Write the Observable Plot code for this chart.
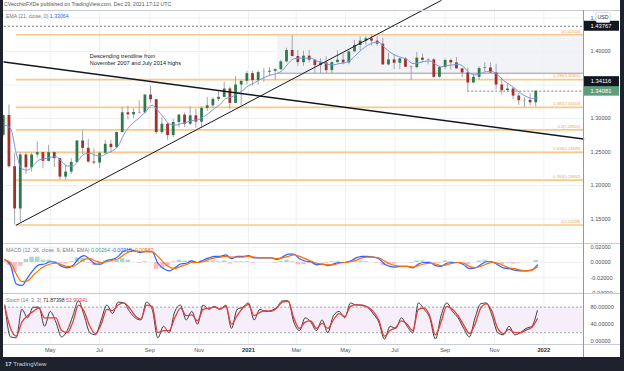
<!DOCTYPE html>
<html><head><meta charset="utf-8">
<script src="https://cdn.jsdelivr.net/npm/d3@7"></script>
<script src="https://cdn.jsdelivr.net/npm/@observablehq/plot@0.6"></script>
<style>
body{margin:0;background:#1e222d;}
#root{position:relative;width:624px;height:371px;background:#1e222d;overflow:hidden;font-family:"Liberation Sans",Arial,sans-serif;}
#inner{position:absolute;left:3px;top:0;width:617px;height:357px;background:#fff;overflow:hidden;}
.abs{position:absolute;white-space:nowrap;line-height:1;}
.sep{position:absolute;background:#c9ccd4;}
#inner svg{position:absolute;left:0;}
</style></head><body>
<div id="root"><div id="inner"></div>
<div class="abs" style="left:5px;top:361px;font-size:6px;color:#d1d4dc;font-weight:bold">17 <span style="font-weight:normal">TradingView</span></div>
</div>
<script>
// ---------- data (GBP/USD daily chart, read as weekly samples) ----------
const weekEnd = [
"2020-03-06","2020-03-13","2020-03-20","2020-03-27",
"2020-04-03","2020-04-10","2020-04-17","2020-04-24",
"2020-05-01","2020-05-08","2020-05-15","2020-05-22","2020-05-29",
"2020-06-05","2020-06-12","2020-06-19","2020-06-26",
"2020-07-03","2020-07-10","2020-07-17","2020-07-24","2020-07-31",
"2020-08-07","2020-08-14","2020-08-21","2020-08-28",
"2020-09-04","2020-09-11","2020-09-18","2020-09-25",
"2020-10-02","2020-10-09","2020-10-16","2020-10-23","2020-10-30",
"2020-11-06","2020-11-13","2020-11-20","2020-11-27",
"2020-12-04","2020-12-11","2020-12-18","2020-12-25",
"2021-01-01","2021-01-08","2021-01-15","2021-01-22","2021-01-29",
"2021-02-05","2021-02-12","2021-02-19","2021-02-26",
"2021-03-05","2021-03-12","2021-03-19","2021-03-26",
"2021-04-02","2021-04-09","2021-04-16","2021-04-23","2021-04-30",
"2021-05-07","2021-05-14","2021-05-21","2021-05-28",
"2021-06-04","2021-06-11","2021-06-18","2021-06-25",
"2021-07-02","2021-07-09","2021-07-16","2021-07-23","2021-07-30",
"2021-08-06","2021-08-13","2021-08-20","2021-08-27",
"2021-09-03","2021-09-10","2021-09-17","2021-09-24",
"2021-10-01","2021-10-08","2021-10-15","2021-10-22","2021-10-29",
"2021-11-05","2021-11-12","2021-11-19","2021-11-26",
"2021-12-03","2021-12-10","2021-12-17","2021-12-24"];
const opens = [
1.2750,1.3045,1.2280,1.1650, 1.2455,1.2265,1.2455,1.2490, 1.2360,1.2490,1.2400,1.2125,1.2200,
1.2345,1.2665,1.2555,1.2350, 1.2335,1.2480,1.2615,1.2565,1.2790, 1.3085,1.3055,1.3090,1.3085,
1.3350,1.3280,1.2790,1.2915, 1.2745,1.2940,1.3050,1.2915,1.3040, 1.2945,1.3150,1.3190,1.3285,
1.3315,1.3440,1.3225,1.3500, 1.3555,1.3670,1.3565,1.3685,1.3690, 1.3705,1.3730,1.3845,1.4015,
1.3925,1.3835,1.3930,1.3870, 1.3790,1.3830,1.3715,1.3835,1.3870, 1.3830,1.3995,1.4090,1.4155,
1.4190,1.4155,1.4110,1.3800, 1.3875,1.3825,1.3890,1.3765,1.3760, 1.3900,1.3870,1.3875,1.3615,
1.3760,1.3865,1.3830,1.3740, 1.3680,1.3530,1.3615,1.3745,1.3755, 1.3680,1.3500,1.3415,1.3440,
1.3335,1.3265,1.3270,1.3235];
const highs = [
1.3050,1.3200,1.2480,1.2485, 1.2485,1.2485,1.2650,1.2490, 1.2600,1.2500,1.2400,1.2300,1.2400,
1.2665,1.2813,1.2690,1.2545, 1.2500,1.2670,1.2670,1.2800,1.3170, 1.3185,1.3145,1.3265,1.3355,
1.3482,1.3285,1.3010,1.2925, 1.2985,1.3060,1.3080,1.3175,1.3140, 1.3175,1.3315,1.3310,1.3400,
1.3540,1.3470,1.3625,1.3565, 1.3705,1.3705,1.3710,1.3745,1.3760, 1.3740,1.3865,1.4050,1.4241,
1.4015,1.4005,1.4015,1.3875, 1.3890,1.3920,1.3845,1.4010,1.3970, 1.4005,1.4165,1.4220,1.4220,
1.4250,1.4220,1.4200,1.3975, 1.3955,1.3895,1.3910,1.3785,1.3985, 1.3960,1.3890,1.3890,1.3780,
1.3890,1.3890,1.3910,1.3750, 1.3750,1.3670,1.3770,1.3835,1.3830, 1.3810,1.3605,1.3515,1.3460,
1.3375,1.3310,1.3370,1.3415];
const lows = [
1.2725,1.2260,1.1409,1.1450, 1.2165,1.2200,1.2410,1.2250, 1.2350,1.2270,1.2080,1.2075,1.2165,
1.2330,1.2460,1.2335,1.2310, 1.2255,1.2460,1.2480,1.2550,1.2785, 1.2980,1.3000,1.3070,1.3065,
1.3225,1.2762,1.2765,1.2676, 1.2710,1.2860,1.2865,1.2895,1.2855, 1.2855,1.3105,1.3150,1.3250,
1.3310,1.3135,1.3225,1.3190, 1.3505,1.3485,1.3500,1.3540,1.3625, 1.3565,1.3720,1.3830,1.3915,
1.3775,1.3780,1.3830,1.3670, 1.3670,1.3670,1.3670,1.3825,1.3800, 1.3800,1.3990,1.4010,1.4095,
1.4085,1.4080,1.3795,1.3785, 1.3730,1.3730,1.3760,1.3570,1.3740, 1.3830,1.3800,1.3600,1.3605,
1.3725,1.3725,1.3735,1.3610, 1.3412,1.3520,1.3570,1.3695,1.3670, 1.3425,1.3350,1.3400,1.3280,
1.3195,1.3160,1.3190,1.3170];
const closes = [
1.3045,1.2280,1.1650,1.2455, 1.2265,1.2455,1.2490,1.2360, 1.2490,1.2400,1.2125,1.2200,1.2345,
1.2665,1.2555,1.2350,1.2335, 1.2480,1.2615,1.2565,1.2790,1.3085, 1.3055,1.3090,1.3085,1.3350,
1.3280,1.2790,1.2915,1.2745, 1.2940,1.3050,1.2915,1.3040,1.2945, 1.3150,1.3190,1.3285,1.3315,
1.3440,1.3225,1.3500,1.3555, 1.3670,1.3565,1.3685,1.3690,1.3705, 1.3730,1.3845,1.4015,1.3925,
1.3835,1.3930,1.3870,1.3790, 1.3830,1.3715,1.3835,1.3870,1.3830, 1.3995,1.4090,1.4155,1.4190,
1.4155,1.4110,1.3800,1.3875, 1.3825,1.3890,1.3765,1.3760,1.3900, 1.3870,1.3875,1.3615,1.3760,
1.3865,1.3830,1.3740,1.3680, 1.3530,1.3615,1.3745,1.3755,1.3680, 1.3500,1.3415,1.3440,1.3335,
1.3265,1.3270,1.3235,1.3408];
const ema21 = [
1.2900,1.2850,1.2480,1.2250, 1.2230,1.2300,1.2380,1.2400, 1.2420,1.2430,1.2360,1.2290,1.2290,
1.2380,1.2470,1.2480,1.2450, 1.2440,1.2480,1.2520,1.2590,1.2760, 1.2880,1.2960,1.3030,1.3120,
1.3200,1.3120,1.3020,1.2920, 1.2900,1.2920,1.2940,1.2970,1.2980, 1.3020,1.3080,1.3150,1.3210,
1.3300,1.3320,1.3370,1.3420, 1.3490,1.3530,1.3580,1.3620,1.3650, 1.3670,1.3720,1.3820,1.3890,
1.3900,1.3900,1.3900,1.3860, 1.3840,1.3810,1.3800,1.3820,1.3830, 1.3870,1.3950,1.4030,1.4090,
1.4130,1.4140,1.4060,1.3990, 1.3940,1.3910,1.3880,1.3820,1.3830, 1.3850,1.3860,1.3810,1.3770,
1.3790,1.3800,1.3810,1.3770, 1.3680,1.3650,1.3670,1.3700,1.3700, 1.3650,1.3570,1.3510,1.3450,
1.3380,1.3330,1.3300,1.33064];
const macdLine = [
0.004,-0.004,-0.028,-0.030, -0.020,-0.010,-0.003,-0.002, 0.001,0.000,-0.005,-0.007,-0.004,
0.005,0.009,0.004,-0.002, -0.002,0.003,0.004,0.008,0.015, 0.017,0.015,0.013,0.015,
0.014,-0.001,-0.008,-0.011, -0.007,-0.002,-0.001,0.002,0.000, 0.003,0.006,0.008,0.008,
0.010,0.005,0.008,0.008, 0.009,0.006,0.006,0.006,0.006, 0.004,0.007,0.011,0.011,
0.005,0.002,0.001,-0.003, -0.002,-0.004,-0.002,0.000,0.000, 0.002,0.006,0.008,0.008,
0.007,0.005,-0.002,-0.005, -0.006,-0.005,-0.005,-0.007,-0.002, 0.000,0.000,-0.004,-0.005,
-0.001,0.000,0.000,-0.003, -0.008,-0.007,-0.003,0.001,0.001, -0.003,-0.007,-0.008,-0.010,
-0.011,-0.011,-0.010,-0.00318];
const signalLine = [
0.003,0.000,-0.015,-0.025, -0.024,-0.017,-0.010,-0.005, -0.002,-0.001,-0.003,-0.005,-0.005,
-0.001,0.004,0.005,0.002, 0.000,0.001,0.003,0.005,0.010, 0.014,0.015,0.014,0.014,
0.014,0.008,0.000,-0.006, -0.008,-0.005,-0.003,0.000,0.000, 0.001,0.004,0.006,0.007,
0.008,0.007,0.007,0.007, 0.008,0.007,0.006,0.006,0.006, 0.005,0.006,0.008,0.010,
0.008,0.005,0.002,-0.001, -0.002,-0.003,-0.003,-0.001,0.000, 0.001,0.003,0.006,0.007,
0.007,0.006,0.002,-0.002, -0.004,-0.005,-0.005,-0.006,-0.004, -0.002,-0.001,-0.002,-0.004,
-0.003,-0.001,0.000,-0.001, -0.005,-0.007,-0.005,-0.002,0.000, -0.001,-0.004,-0.007,-0.008,
-0.010,-0.011,-0.010,-0.00582];
const histogram = [
0.001,-0.004,-0.013,-0.005, 0.004,0.007,0.007,0.003, 0.003,0.001,-0.002,-0.002,0.001,
0.006,0.005,-0.001,-0.004, -0.002,0.002,0.001,0.003,0.005, 0.003,0.000,-0.001,0.001,
0.000,-0.009,-0.008,-0.005, 0.001,0.003,0.002,0.002,0.000, 0.002,0.002,0.002,0.001,
0.002,-0.002,0.001,0.001, 0.001,-0.001,0.000,0.000,0.000, -0.001,0.001,0.003,0.001,
-0.003,-0.003,-0.001,-0.002, 0.000,-0.001,0.001,0.001,0.000, 0.001,0.003,0.002,0.001,
0.000,-0.001,-0.004,-0.003, -0.002,0.000,0.000,-0.001,0.002, 0.002,0.001,-0.002,-0.001,
0.002,0.001,0.000,-0.002, -0.003,0.000,0.002,0.003,0.001, -0.002,-0.003,-0.001,-0.002,
-0.001,0.000,0.000,0.00264];
const stochK = [
85,10,8,75, 55,80,80,35, 70,45,10,25,60, 95,60,20,15, 50,85,65,92,90, 70,55,50,92,
75,8,35,20, 70,85,50,70,40, 85,75,82,75, 85,30,75,80, 90,50,75,70,72, 80,95,95,45,
25,55,45,25, 50,20,60,70,55, 90,85,85,80, 65,45,5,35, 30,55,35,20,90, 75,55,5,60,
90,70,55,30, 10,55,88,90,60, 20,15,35,15, 20,30,35,71.87];
const stochD = [
80,30,12,45, 60,70,78,55, 55,55,25,20,45, 85,70,35,18, 40,75,72,85,90, 78,60,52,85,
82,20,25,25, 55,78,60,62,48, 75,78,80,76, 82,40,60,78, 86,60,68,72,70, 78,92,94,55,
30,45,48,30, 42,30,50,65,58, 82,86,84,80, 70,50,12,25, 32,48,40,25,75, 78,60,15,45,
82,75,60,38, 18,40,78,88,70, 30,18,28,20, 20,26,32,52.9];

// fib retracement (Mar 2020 low -> Jun 2021 high)
const fibRatios = ["0","0.236","0.382","0.5","0.618","0.764","1"];
const fibPrices = [1.42504,1.35800,1.31653,1.28301,1.24949,1.20802,1.14098];
const fibStart = "2020-03-20";
// drawings
const descTrendDates = ["2020-03-05","2022-02-19"], descTrendPrices = [1.3843,1.2694];
const ascTrendDates = ["2020-03-20","2021-08-27"], ascTrendPrices = [1.1409,1.4761];
const noteText = "Descending trendline from\nNovember 2007 and July 2014 highs";
const noteDate = "2020-06-19", notePrice = 1.3975;
const rangeStart = "2021-02-06", rangeTop = 1.42504, rangeBottom = 1.3676;
const dashedLevel = 1.43767;
const dottedStart = "2021-09-29", dottedLevel = 1.34081;
const boxPrices = [1.43767, 1.34081, 1.34116];
const boxColors = ["#131722", "#5e9e7c", "#131722"];
// axes
const priceTicks = [1.15,1.20,1.25,1.30,1.40,1.45];
const priceTickText = ["1.15000","1.20000","1.25000","1.30000","1.40000","1.4"]; // top label is cut by the USD badge
const priceGrid = [1.15,1.20,1.25,1.30,1.35,1.40,1.45];
const macdTicks = [0.02,0,-0.02,-0.04];
const stochTicks = [0,40,80];
const timeTicks = ["2020-05-01","2020-07-01","2020-09-01","2020-11-01","2021-01-01","2021-03-01","2021-05-01","2021-07-01","2021-09-01","2021-11-01","2022-01-01"];
const timeLabels = ["May","Jul","Sep","Nov","2021","Mar","May","Jul","Sep","Nov","2022"];

// ---------- build ----------
const D = s => new Date(s + "T00:00:00Z");
const xDomain = [new Date("2020-03-05T12:00:00Z"), D("2022-02-19")];
const DAY = 864e5;
const bars = weekEnd.map((w, i) => ({
  end: D(w), mid: new Date(D(w).getTime() - 2 * DAY),
  open: opens[i], high: highs[i], low: lows[i], close: closes[i], ema: ema21[i],
  macd: macdLine[i], signal: signalLine[i], hist: histogram[i], k: stochK[i], d: stochD[i]
}));
const up = bars.filter(b => b.close >= b.open), down = bars.filter(b => b.close < b.open);
const fib = fibRatios.map((r, i) => ({label: `${r}(${fibPrices[i].toFixed(5)})`, price: fibPrices[i]}));
const desc = descTrendDates.map((d, i) => ({date: D(d), price: descTrendPrices[i]}));
const asc = ascTrendDates.map((d, i) => ({date: D(d), price: ascTrendPrices[i]}));
const ticks = timeTicks.map(D);
const labelMap = new Map(ticks.map((t, i) => [+t, timeLabels[i]]));
const priceLabelMap = new Map(priceTicks.map((t, i) => [t, priceTickText[i]]));
const monthTicks = ticks.filter(t => t.getUTCMonth() !== 0);
const yearTicks = ticks.filter(t => t.getUTCMonth() === 0);

const FONT = "'Liberation Sans',Arial,sans-serif";
const common = {width: 617, marginLeft: 1, marginRight: 37,
  x: {type: "utc", domain: xDomain},
  style: {fontFamily: FONT, color: "#50535e", background: "#fff", overflow: "visible"}};
const GRID = "#eef0f5";
const fmt5 = d => d.toFixed(5);

const price = Plot.plot({...common, height: 243, marginTop: 10, marginBottom: 0,
  x: {...common.x, axis: null},
  y: {domain: [1.11343, 1.46119]},
  marks: [
    Plot.ruleX(ticks, {stroke: GRID}),
    Plot.ruleY(priceGrid, {stroke: GRID}),
    Plot.rect([0], {x1: D(rangeStart), x2: xDomain[1], y1: rangeBottom, y2: rangeTop, fill: "#eef0f4", fillOpacity: 0.8}),
    Plot.ruleY([rangeBottom], {x1: D(rangeStart), x2: xDomain[1], stroke: "#9598a1", strokeWidth: 1}),
    Plot.ruleY(fib, {y: "price", x1: D(fibStart), x2: xDomain[1], stroke: "#f8c98a", strokeWidth: 1.6}),
    Plot.ruleY([dashedLevel], {stroke: "#787b86", strokeDasharray: "2,2"}),
    Plot.ruleY([dottedLevel], {x1: D(dottedStart), x2: xDomain[1], stroke: "#787b86", strokeDasharray: "2,2"}),
    Plot.ruleX(bars, {x: "mid", y1: "low", y2: "high", stroke: "#a3a6ae", strokeWidth: 1}),
    Plot.ruleX(up, {x: "mid", y1: "open", y2: "close", stroke: "#2f7a4c", strokeWidth: 2.8}),
    Plot.ruleX(down, {x: "mid", y1: "open", y2: "close", stroke: "#a2302c", strokeWidth: 2.8}),
    Plot.line(bars, {x: "end", y: "ema", stroke: "#7895e2", strokeWidth: 1, curve: "monotone-x"}),
    Plot.line(desc, {x: "date", y: "price", stroke: "#131722", strokeWidth: 1.6}),
    Plot.line(asc, {x: "date", y: "price", stroke: "#131722", strokeWidth: 1}),
    Plot.text(fib, {x: xDomain[1], y: "price", text: "label", textAnchor: "end", dx: -3, dy: -3.5, fill: "#f2a43a", fontSize: 4}),
    Plot.text([0], {x: D(noteDate), y: notePrice, text: [noteText], textAnchor: "start", lineAnchor: "top", fontSize: 5.6, fill: "#131722", lineHeight: 1.2}),
    Plot.axisY({anchor: "right", ticks: priceTicks, tickSize: 0, tickPadding: 7, tickFormat: d => priceLabelMap.get(d), fontSize: 5.6, label: null})
  ]});

const macd = Plot.plot({...common, height: 50, marginTop: 0, marginBottom: 0,
  x: {...common.x, axis: null},
  y: {domain: [-0.04052, 0.02484]},
  marks: [
    Plot.ruleX(ticks, {stroke: GRID}),
    Plot.ruleY(macdTicks, {stroke: GRID}),
    Plot.ruleX(bars.filter(b => b.hist >= 0), {x: "mid", y1: 0, y2: "hist", stroke: "#a9d8cc", strokeWidth: 4.5}),
    Plot.ruleX(bars.filter(b => b.hist < 0), {x: "mid", y1: 0, y2: "hist", stroke: "#f9bcc2", strokeWidth: 4.5}),
    Plot.line(bars, {x: "end", y: "macd", stroke: "#2962ff", strokeWidth: 1.2, curve: "monotone-x"}),
    Plot.line(bars, {x: "end", y: "signal", stroke: "#ff6d00", strokeWidth: 1.2, curve: "monotone-x"}),
    Plot.axisY({anchor: "right", ticks: macdTicks, tickSize: 0, tickPadding: 7, tickFormat: fmt5, fontSize: 5.6, label: null})
  ]});

const stoch = Plot.plot({...common, height: 64, marginTop: 0, marginBottom: 13,
  y: {domain: [-7.8, 112.2]},
  marks: [
    Plot.ruleX(ticks, {stroke: GRID}),
    Plot.rect([0], {x1: xDomain[0], x2: xDomain[1], y1: 20, y2: 80, fill: "#f6eef8"}),
    Plot.ruleY([80, 20], {stroke: "#a3a6af", strokeDasharray: "2,2"}),
    Plot.line(bars, {x: "end", y: "k", stroke: "#3a3d46", strokeWidth: 1, curve: "monotone-x"}),
    Plot.line(bars, {x: "end", y: "d", stroke: "#e0403c", strokeWidth: 1.3, curve: "monotone-x"}),
    Plot.axisY({anchor: "right", ticks: stochTicks, tickSize: 0, tickPadding: 7, tickFormat: fmt5, fontSize: 5.6, label: null}),
    Plot.axisX({ticks: monthTicks, tickSize: 0, tickPadding: 3.5, tickFormat: d => labelMap.get(+d), fontSize: 5.6, label: null}),
    Plot.axisX({ticks: yearTicks, tickSize: 0, tickPadding: 3.5, tickFormat: d => labelMap.get(+d), fontSize: 5.8, fontWeight: "bold", fill: "#2a2e39", label: null})
  ]});

const inner = document.getElementById("inner");
price.style.top = "0px"; macd.style.top = "243px"; stoch.style.top = "293px";
inner.append(price, macd, stoch);

// price-axis boxes, positioned with the plot's own y scale
const ys = price.scale("y");
const g = d3.select(price).append("g").attr("font-family", FONT);
const placed = [];
boxPrices.forEach((p, i) => {
  let yy = ys.apply(p);
  for (const q of placed) if (Math.abs(q - yy) < 9.5) yy = q - 9.5;
  placed.push(yy);
  g.append("rect").attr("x", 580).attr("y", yy - 5).attr("width", 36).attr("height", 10).attr("fill", boxColors[i]);
  g.append("text").attr("x", 598).attr("y", yy).attr("dy", "0.36em").attr("text-anchor", "middle")
    .attr("fill", "#fff").attr("font-size", 5.8).text(p.toFixed(5));
});
const yUsd = ys.apply(priceTicks[priceTicks.length - 1]);
g.append("rect").attr("x", 593).attr("y", yUsd - 5).attr("width", 14).attr("height", 10).attr("rx", 1.5)
  .attr("fill", "#fff").attr("stroke", "#c3c6ce").attr("stroke-width", 0.6);
g.append("text").attr("x", 600).attr("y", yUsd).attr("dy", "0.36em").attr("text-anchor", "middle")
  .attr("fill", "#2a2e39").attr("font-size", 5.2).text("USD");

// separators & legends
const addSep = (css) => { const s = document.createElement("div"); s.className = "sep"; s.style.cssText += css; inner.append(s); };
addSep("left:0;top:10px;width:617px;height:1px;");
addSep("left:0;top:243px;width:617px;height:1px;");
addSep("left:0;top:293px;width:617px;height:1px;");
addSep("left:0;top:344px;width:617px;height:1px;");
addSep("left:580px;top:10px;width:1px;height:347px;background:#9598a1;");
const addText = (html, css) => { const t = document.createElement("div"); t.className = "abs"; t.style.cssText = css; t.innerHTML = html; inner.append(t); };
addText("CVecchioFXDe published on TradingView.com, Dec 23, 2021 17:12 UTC", "left:1px;top:2px;font-size:5.2px;color:#50535e;");
addText('EMA (21, close, 0) <span style="color:#2962ff">1.33064</span>', "left:3px;top:13.5px;font-size:5.2px;color:#787b86;");
addText('MACD (12, 26, close, 9, EMA, EMA) <span style="color:#26a69a">0.00264</span> <span style="color:#2962ff">-0.00318</span> <span style="color:#ff6d00">-0.00582</span>', "left:3px;top:248px;font-size:5.2px;color:#787b86;");
addText('Stoch (14, 3, 3) <span style="color:#2a2e39">71.87398</span> <span style="color:#e0403c">52.90341</span>', "left:3px;top:297.5px;font-size:5.2px;color:#787b86;");
</script>
</body></html>
